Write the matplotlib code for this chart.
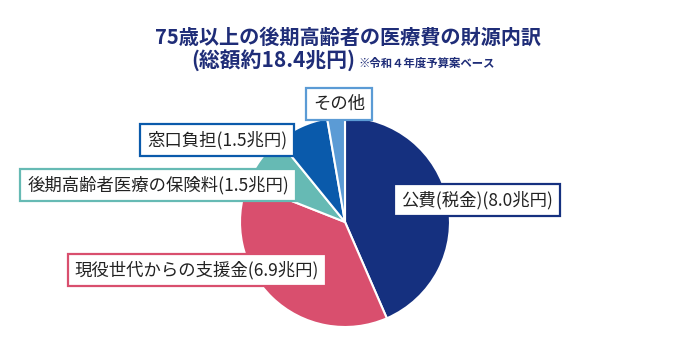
import matplotlib
matplotlib.use("Agg")
import matplotlib.pyplot as plt

plt.rcParams['font.family'] = ['Noto Sans CJK JP', 'DejaVu Sans']

# data (兆円)
labels = ['公費(税金)', '現役世代からの支援金', '後期高齢者医療の保険料', '窓口負担', 'その他']
values = [8.0, 6.9, 1.5, 1.5, 0.5]
colors = ['#15307f', '#d94f6e', '#66bab4', '#0a5aab', '#5b9bd5']
label_text = ['公費(税金)(8.0兆円)', '現役世代からの支援金(6.9兆円)',
              '後期高齢者医療の保険料(1.5兆円)', '窓口負担(1.5兆円)', 'その他']
# label box centres in pixels (x, y from top)
label_pos = [(477, 200), (197, 270), (158, 185), (217, 140), (339, 104)]

W, H = 700, 353
fig = plt.figure(figsize=(W / 100, H / 100), dpi=100)

cx, cy, r = 345, 222, 105
ax = fig.add_axes([(cx - r) / W, (H - cy - r) / H, 2 * r / W, 2 * r / H])
ax.pie(values, colors=colors, startangle=90, counterclock=False,
       wedgeprops=dict(edgecolor='white', linewidth=1.5))
ax.set_xlim(-1, 1)
ax.set_ylim(-1, 1)
ax.set_aspect('auto')
ax.axis('off')

for txt, (px, py), c in zip(label_text, label_pos, colors):
    fig.text(px / W, 1 - py / H, txt, ha='center', va='center', fontsize=12.5,
             color='#222222',
             bbox=dict(boxstyle='square,pad=0.4', facecolor='white', edgecolor=c, linewidth=1.6))

title_color = '#1f2d78'
fig.text(348 / W, 1 - 37 / H, '75歳以上の後期高齢者の医療費の財源内訳', ha='center', va='center',
         fontsize=14.5, fontweight='bold', color=title_color)
fig.text(355 / W, 1 - 60 / H, '(総額約18.4兆円)', ha='right', va='center',
         fontsize=15, fontweight='bold', color=title_color)
fig.text(358 / W, 1 - 63 / H, '※令和４年度予算案ベース', ha='left', va='center',
         fontsize=8.2, fontweight='bold', color=title_color)

fig.savefig('out.png', dpi=100)
